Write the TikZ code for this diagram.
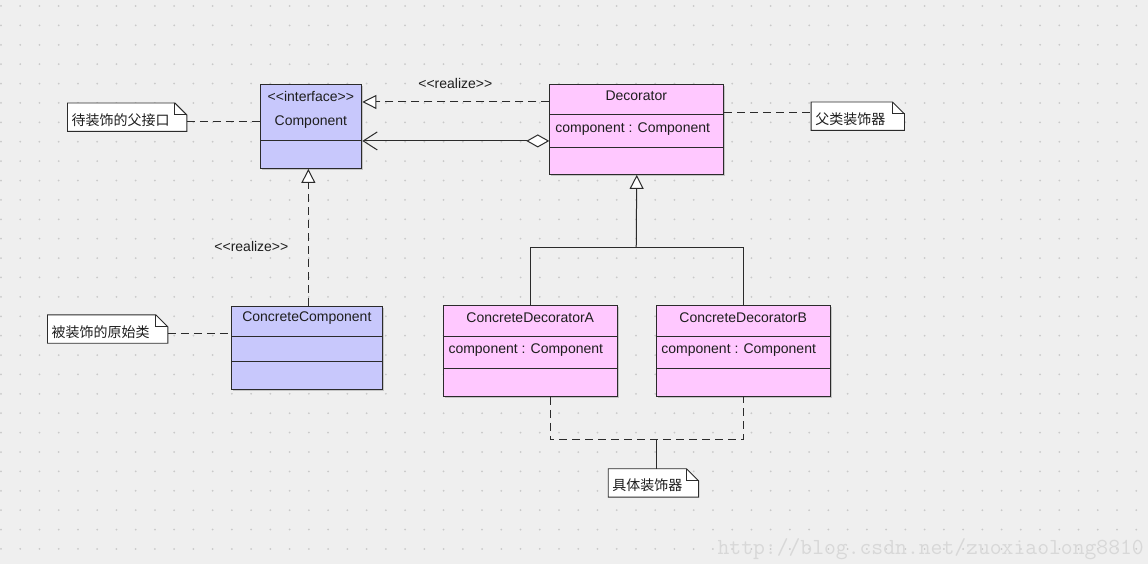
\documentclass[tikz,border=0pt]{standalone}
\usepackage{fontspec}
\newfontfamily\umlfont{Liberation Sans}
\newfontfamily\cjk{Noto Sans CJK SC}
\usetikzlibrary{arrows.meta,calc,shadows}
\definecolor{bgc}{HTML}{EFEFEF}
\definecolor{dotc}{HTML}{C9C9C9}
\definecolor{compfill}{HTML}{C8C8FC}
\definecolor{decfill}{HTML}{FFC8FF}
\definecolor{edge}{HTML}{2B2B2B}
\definecolor{txt}{HTML}{1E1E1E}
\definecolor{wm}{HTML}{D8D8D8}
\pgfdeclarelayer{back}
\pgfdeclarelayer{mid}
\pgfsetlayers{back,mid,main}
\tikzset{
 cls/.style={draw=edge, line width=1pt, anchor=north west, inner sep=0pt,
   drop shadow={shadow xshift=1.5pt, shadow yshift=-1.5pt, opacity=0.3, fill=black!60}},
 lbl/.style={font=\umlfont\fontsize{14}{16}\selectfont, text=txt, inner sep=0pt},
 notebox/.style={anchor=north west, inner xsep=4pt, inner ysep=0pt, minimum height=28pt,
   text height=16pt, text depth=0pt,
   align=left, font=\cjk\fontsize{14}{16}\selectfont, text=txt},
 noteline/.style={draw=edge, fill=white, line width=0.9pt},
 conn/.style={draw=edge, line width=1pt},
 dashconn/.style={conn, dash pattern=on 8pt off 5pt},
 opentri/.style={-{Triangle[fill=white, length=14pt, width=14pt]}},
}
\newcommand\umlnote[4]{%
 \node[notebox, text width=#3] (#1) at (#2) {#4};
 \begin{pgfonlayer}{mid}
 \filldraw[noteline] (#1.north west) -- ([xshift=-12pt]#1.north east) -- ([yshift=-12pt]#1.north east) -- (#1.south east) -- (#1.south west) -- cycle;
 \draw[noteline, fill=none] ([xshift=-12pt]#1.north east) |- ([yshift=-12pt]#1.north east);
 \end{pgfonlayer}
}
\begin{document}
\begin{tikzpicture}[x=1pt,y=-1pt]
\begin{pgfonlayer}{back}
\fill[bgc] (0,0) rectangle (1148,564);
\foreach \i in {0,...,59}{\foreach \j in {0,...,28}{\fill[dotc] ({0.5+19.25*\i},{6+19.4*\j}) circle (1pt);}}
\end{pgfonlayer}
\useasboundingbox (0,0) rectangle (1148,564);

% Component
\node[cls, fill=compfill, minimum width=101pt, minimum height=84pt] (comp) at (260,84) {};
\draw[conn] ([yshift=-57pt]comp.north west) -- ([yshift=-57pt]comp.north east);
\node[lbl] (compst) at (310.5,96.5) {<<interface>>};
\node[lbl] (compnm) at (310.5,122.5) {Component};

% Decorator
\node[cls, fill=decfill, minimum width=174pt, minimum height=90pt] (dec) at (549,84) {};
\draw[conn] ([yshift=-30.5pt]dec.north west) -- ([yshift=-30.5pt]dec.north east);
\draw[conn] ([yshift=-63.5pt]dec.north west) -- ([yshift=-63.5pt]dec.north east);
\node[lbl] (decnm) at (636,96) {Decorator};
\node[lbl, anchor=west] (decat) at (555,129.5) {component : Component};

% ConcreteComponent
\node[cls, fill=compfill, minimum width=151pt, minimum height=83pt] (cc) at (231,306) {};
\draw[conn] ([yshift=-31pt]cc.north west) -- ([yshift=-31pt]cc.north east);
\draw[conn] ([yshift=-56pt]cc.north west) -- ([yshift=-56pt]cc.north east);
\node[lbl] (ccnm) at (306.5,318) {ConcreteComponent};

% ConcreteDecoratorA
\node[cls, fill=decfill, minimum width=174pt, minimum height=91pt] (cda) at (443,305) {};
\draw[conn] ([yshift=-32pt]cda.north west) -- ([yshift=-32pt]cda.north east);
\draw[conn] ([yshift=-64pt]cda.north west) -- ([yshift=-64pt]cda.north east);
\node[lbl] (cdanm) at (530,318) {ConcreteDecoratorA};
\node[lbl, anchor=west] (cdaat) at (448,350.5) {component : Component};

% ConcreteDecoratorB
\node[cls, fill=decfill, minimum width=174pt, minimum height=91pt] (cdb) at (656,305) {};
\draw[conn] ([yshift=-32pt]cdb.north west) -- ([yshift=-32pt]cdb.north east);
\draw[conn] ([yshift=-64pt]cdb.north west) -- ([yshift=-64pt]cdb.north east);
\node[lbl] (cdbnm) at (743,318) {ConcreteDecoratorB};
\node[lbl, anchor=west] (cdbat) at (661,350.5) {component : Component};

% labels
\node[lbl] (real1) at (455,83.5) {<<realize>>};
\node[lbl] (real2) at (251,246.5) {<<realize>>};

% connectors
\draw[dashconn, opentri] ([yshift=-18pt]dec.north west) -- ([yshift=-18pt]comp.north east);
\draw[conn, {Diamond[fill=white,length=23pt,width=13pt]}-{Straight Barb[length=14pt,width=18pt]}] ([yshift=-57pt]dec.north west) -- ([yshift=-57pt]comp.north east);
\coordinate (xr) at (308,0);
\draw[dashconn, opentri] (cc.north -| xr) -- (comp.south -| xr);
\coordinate (junc) at (636,248);
\draw[conn, opentri] (junc) -- (dec.south);
\draw[conn] (cda.north) |- (junc) -| (cdb.north);

% notes
\umlnote{n1}{67,103}{111pt}{待装饰的父接口}
\coordinate (y1) at (0,122);
\draw[dashconn] (n1.east |- y1) -- (comp.west |- y1);
\umlnote{n2}{811,102}{85pt}{父类装饰器}
\coordinate (y2) at (0,113);
\draw[dashconn] (dec.east |- y2) -- (n2.west |- y2);
\umlnote{n3}{47,315}{112pt}{被装饰的原始类}
\coordinate (y3) at (0,334);
\draw[dashconn] (n3.east |- y3) -- (cc.west |- y3);
\umlnote{n4}{608,469}{82pt}{具体装饰器}
\coordinate (ja) at (550,440);
\coordinate (jb) at (743,440);
\coordinate (jn) at (656,440);
\draw[dashconn] (cda.south -| ja) -- (ja) -- (jb) -- (cdb.south -| jb);
\draw[conn] (jn) -- (n4.north -| jn);

% watermark
\node[font=\ttfamily\fontsize{23}{23}\selectfont, text=wm, anchor=east, inner sep=0pt] (wmark) at (1144,549) {http://blog.csdn.net/zuoxiaolong8810};
\end{tikzpicture}
\end{document}
